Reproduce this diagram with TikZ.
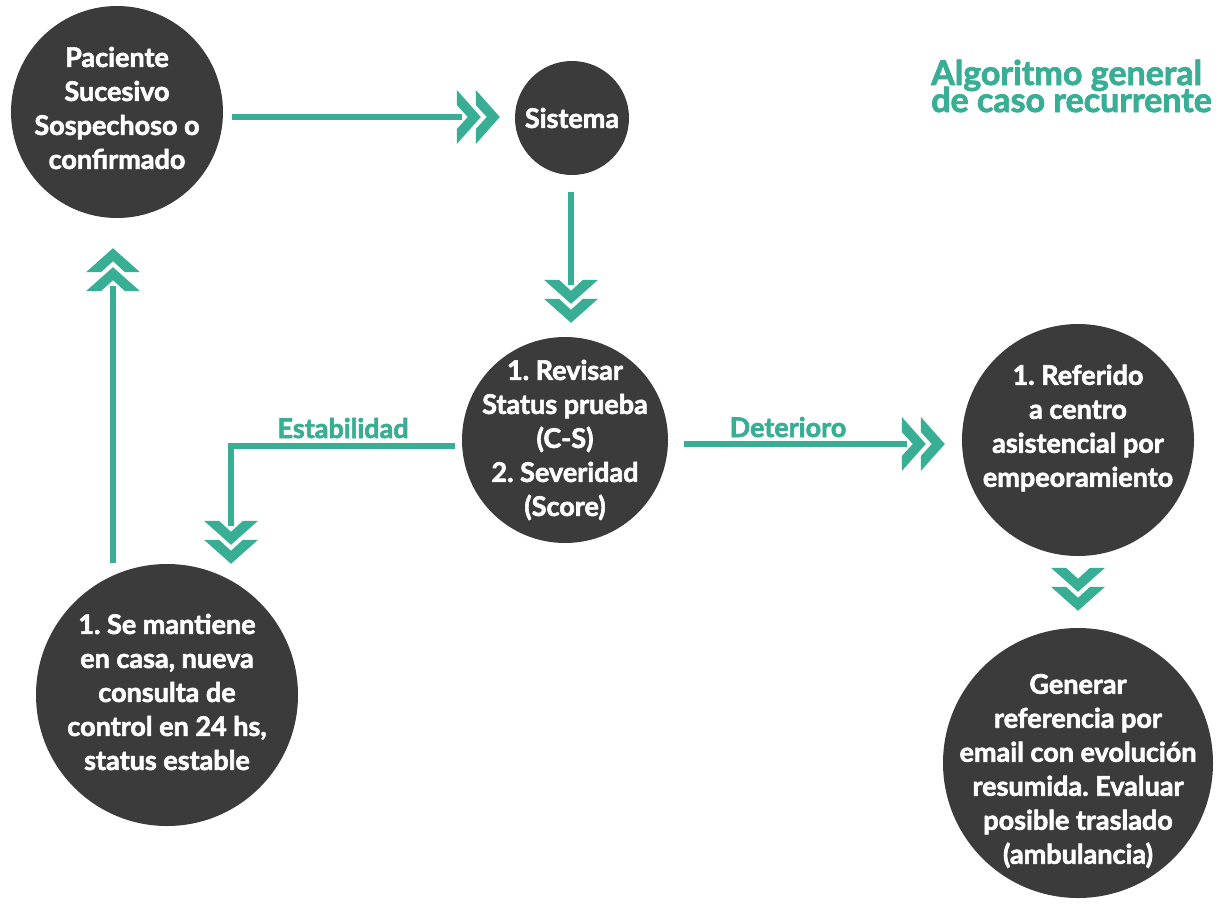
\documentclass[tikz,border=0pt]{standalone}
\usepackage{fontspec}
\setmainfont{Lato}[BoldFeatures={FakeBold=2.2}]
\definecolor{tealg}{RGB}{56,174,148}
\definecolor{darkc}{RGB}{59,59,59}
\tikzset{
  circ/.style={circle, fill=darkc, inner sep=0pt, minimum size=#1},
  ctext/.style={text=white, font=\bfseries\fontsize{27}{34}\selectfont, align=center, inner sep=0pt},
  conn/.style={draw=tealg, line width=5.5pt},
  lab/.style={text=tealg, font=\bfseries\fontsize{27}{32}\selectfont, inner sep=0pt},
  ttl/.style={text=tealg, font=\bfseries\fontsize{34}{27}\selectfont, inner sep=0pt},
  chevdown/.pic={\fill[tealg] (0,0) -- (-27,-24) -- (-12,-24) -- (0,-13) -- (12,-24) -- (27,-24) -- cycle
                   (0,-19) -- (-27,-43) -- (-12,-43) -- (0,-32) -- (12,-43) -- (27,-43) -- cycle;},
  chevup/.pic={\fill[tealg] (0,0) -- (-27,24) -- (-12,24) -- (0,13) -- (12,24) -- (27,24) -- cycle
                   (0,19) -- (-27,43) -- (-12,43) -- (0,32) -- (12,43) -- (27,43) -- cycle;},
  chevright/.pic={\fill[tealg] (0,0) -- (-24,-27) -- (-24,-12) -- (-13,0) -- (-24,12) -- (-24,27) -- cycle
                   (-19,0) -- (-43,-27) -- (-43,-12) -- (-32,0) -- (-43,12) -- (-43,27) -- cycle;}
}
\begin{document}
\frenchspacing
\begin{tikzpicture}[x=1pt,y=-1pt]
\useasboundingbox (0,0) rectangle (1218,913);
\fill[white] (0,0) rectangle (1218,913);

% circles
\node[circ=212pt] (pac) at (117,112) {};
\node[circ=114pt] (sis) at (572,118) {};
\node[circ=206pt] (rev) at (565,440) {};
\node[circ=232pt] (ref) at (1078,440) {};
\node[circ=262pt] (man) at (167,695) {};
\node[circ=270pt] (gen) at (1078,763) {};

% texts
\node[ctext] (pacT) at ([yshift=4pt]pac.center) {Paciente\\Sucesivo\\Sospechoso o\\confirmado};
\node[ctext] (sisT) at (sis.center) {Sistema};
\node[ctext] (revT) at (rev.center) {1. Revisar\\Status prueba\\(C-S)\\2. Severidad\\(Score)};
\node[ctext] (refT) at ([yshift=12pt]ref.center) {1. Referido\\a centro\\asistencial por\\empeoramiento};
\node[ctext] (manT) at ([yshift=3pt]man.center) {1. Se mantiene\\en casa, nueva\\consulta de\\control en 24 hs,\\status estable};
\node[ctext] (genT) at ([yshift=-8pt]gen.center) {Generar\\referencia por\\email con evoluci\'on\\resumida. Evaluar\\posible traslado\\(ambulancia)};

% title
\node[ttl, anchor=base west, text depth=0pt] (t1) at (931,85) {Algoritmo general};
\node[ttl, anchor=base west, text height=23pt] (t2) at (931,112) {de caso recurrente};

% chevron tips
\coordinate (c1) at ([xshift=-15pt,yshift=1pt]sis.west);
\coordinate (c2) at ([xshift=6pt,yshift=14pt]rev.north);
\coordinate (c3) at ([xshift=-17pt,yshift=-4pt]ref.west);
\coordinate (c4) at ([xshift=64pt]man.north);
\coordinate (c5) at ([xshift=-4pt,yshift=-30pt]pac.south);
\coordinate (c6) at ([yshift=17pt]gen.north);
\coordinate (s1) at ([xshift=9pt]pac.east);
\coordinate (s2) at ([yshift=-17pt]sis.south);
\coordinate (s3) at ([xshift=16pt]rev.east);
\coordinate (s4) at ([xshift=-7pt,yshift=-6pt]rev.west);
\coordinate (s5) at ([yshift=1pt]man.north);

% connectors
\draw[conn] (s1 |- c1) -- ([xshift=-38pt]c1);
\pic at (c1) {chevright};
\draw[conn] (s2 -| c2) -- ([yshift=38pt]c2);
\pic at (c2) {chevdown};
\draw[conn] (s3 |- c3) -- ([xshift=-38pt]c3);
\pic at (c3) {chevright};
\draw[conn] (s4) -| ([yshift=38pt]c4);
\pic at (c4) {chevdown};
\draw[conn] (s5 -| c5) -- ([yshift=-38pt]c5);
\pic at (c5) {chevup};
\pic at (c6) {chevdown};

% labels
\node[lab, anchor=base] (lstab) at (343,438) {Estabilidad};
\node[lab, anchor=base] (ldet) at (788,437) {Deterioro};
\end{tikzpicture}
\end{document}
